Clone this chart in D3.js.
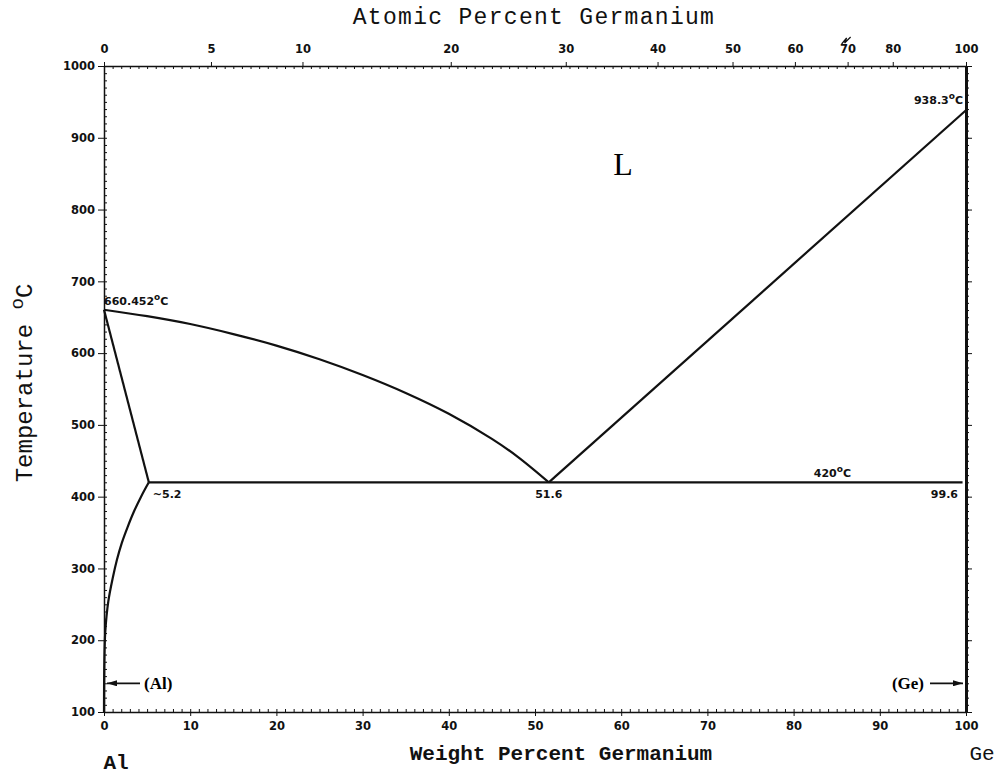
<!DOCTYPE html>
<html>
<head>
<meta charset="utf-8">
<script src="https://cdn.jsdelivr.net/npm/d3@7"></script>
<style>
  body { margin: 0; background: #fff; }
  .axis path, .axis line { stroke: #111; }
  .axis text { font-family: "DejaVu Sans", sans-serif; font-weight: bold; font-size: 11.5px; fill: #111; }
  .phase { fill: none; stroke: #111; stroke-width: 2.2; }
  .lbl { font-family: "DejaVu Sans", sans-serif; font-weight: bold; font-size: 11px; fill: #111; }
  .title { font-family: "Liberation Mono", monospace; fill: #111; }
</style>
</head>
<body>
<svg id="chart" width="1000" height="775"></svg>
<script>
// Al-Ge phase diagram
const wtTicks = [0, 10, 20, 30, 40, 50, 60, 70, 80, 90, 100];
const atTicks = [0, 5, 10, 20, 30, 40, 50, 60, 70, 80, 100];
const tempTicks = [100, 200, 300, 400, 500, 600, 700, 800, 900, 1000];

// liquidus, Al side (wt% Ge, deg C)
const liqAlWt = [0, 5, 10, 15, 20, 25, 30, 35, 40, 45, 48, 51.6];
const liqAlT  = [660.452, 651.5, 640.5, 626.5, 610.5, 591.5, 569.5, 544.5, 515.5, 480.5, 455.5, 420];
// liquidus, Ge side
const liqGeWt = [51.6, 100];
const liqGeT  = [420, 938.3];
// solidus of (Al)
const solAlWt = [0, 5.2];
const solAlT  = [660.452, 420];
// solvus of (Al)
const solvWt = [5.2, 4.3, 3.5, 2.75, 2.05, 1.5, 1.04, 0.5, 0.15, 0.04, 0];
const solvT  = [420, 400, 380, 358, 335, 312, 288, 254, 212, 170, 100];
// eutectic line
const eutWt = [5.2, 99.6];
const eutT  = [420, 420];

const AL = 26.98, GE = 72.63;
const atToWt = a => 100 * a * GE / (a * GE + (100 - a) * AL);

const svg = d3.select("#chart");

const x = d3.scaleLinear().domain([0, 100]).range([104, 966]);
const y = d3.scaleLinear().domain([100, 1000]).range([712, 66]);

// bottom axis
svg.append("g").attr("class", "axis")
    .attr("transform", "translate(0," + y(100) + ")")
    .call(d3.axisBottom(x).tickValues(d3.range(0, 101, 1)).tickSize(-3).tickFormat(""));
svg.append("g").attr("class", "axis")
    .attr("transform", "translate(0," + y(100) + ")")
    .call(d3.axisBottom(x).tickValues(wtTicks).tickSizeInner(4).tickSizeOuter(0).tickPadding(6))
    .call(g => g.select(".domain").attr("stroke-width", 1.5));

// top axis (atomic percent)
svg.append("g").attr("class", "axis")
    .attr("transform", "translate(0," + y(1000) + ")")
    .call(d3.axisTop(x).tickValues(d3.range(0, 101, 1)).tickSize(-3).tickFormat(""));
svg.append("g").attr("class", "axis")
    .attr("transform", "translate(0," + y(1000) + ")")
    .call(d3.axisTop(x).tickValues(atTicks.map(atToWt)).tickFormat((d, i) => atTicks[i])
        .tickSizeInner(4).tickSizeOuter(0).tickPadding(9))
    .call(g => g.select(".domain").attr("stroke-width", 1.5));

// left axis
svg.append("g").attr("class", "axis")
    .attr("transform", "translate(" + x(0) + ",0)")
    .call(d3.axisLeft(y).tickValues(d3.range(100, 1001, 10)).tickSize(-3).tickFormat(""));
svg.append("g").attr("class", "axis")
    .attr("transform", "translate(" + x(0) + ",0)")
    .call(d3.axisLeft(y).tickValues(tempTicks).tickFormat(d3.format("d"))
        .tickSizeInner(6).tickSizeOuter(0).tickPadding(3))
    .call(g => g.select(".domain").attr("stroke-width", 1.5));

// right axis
svg.append("g").attr("class", "axis")
    .attr("transform", "translate(" + x(100) + ",0)")
    .call(d3.axisRight(y).tickValues(d3.range(100, 1001, 10)).tickSize(3).tickFormat(""));
svg.append("g").attr("class", "axis")
    .attr("transform", "translate(" + x(100) + ",0)")
    .call(d3.axisRight(y).tickValues(tempTicks).tickSizeInner(6).tickSizeOuter(0).tickFormat(""))
    .call(g => g.select(".domain").attr("stroke-width", 3));

// phase boundaries
function drawLine(ws, ts, curve) {
    const pts = ws.map((w, i) => [w, ts[i]]);
    svg.append("path")
        .attr("class", "phase")
        .attr("d", d3.line().x(d => x(d[0])).y(d => y(d[1])).curve(curve)(pts));
}
drawLine(liqAlWt, liqAlT, d3.curveCatmullRom);
drawLine(liqGeWt, liqGeT, d3.curveLinear);
drawLine(solAlWt, solAlT, d3.curveLinear);
drawLine(solvWt, solvT, d3.curveCatmullRom);
drawLine(eutWt, eutT, d3.curveLinear);

// labels
function degLabel(txt, px, py, anchor) {
    const t = svg.append("text").attr("class", "lbl")
        .attr("x", px).attr("y", py).attr("text-anchor", anchor);
    t.append("tspan").text(txt);
    t.append("tspan").attr("font-size", 9).attr("dy", -5).text("o");
    t.append("tspan").attr("dy", 5).text("C");
}
degLabel("660.452", x(0), y(660.452) - 5, "start");
degLabel("938.3", x(100) - 3, y(938.3) - 6, "end");
degLabel("420", x(84.5), y(420) - 5, "middle");

svg.append("text").attr("class", "lbl").attr("x", x(5.2) + 4).attr("y", y(420) + 16).text("~5.2");
svg.append("text").attr("class", "lbl").attr("x", x(51.6)).attr("y", y(420) + 16)
    .attr("text-anchor", "middle").text("51.6");
svg.append("text").attr("class", "lbl").attr("x", x(100) - 8).attr("y", y(420) + 16)
    .attr("text-anchor", "end").text("99.6");

svg.append("text").attr("x", x(60.2)).attr("y", y(848))
    .attr("font-family", "Liberation Serif, serif").attr("font-size", 32).attr("text-anchor", "middle")
    .text("L");

// (Al) and (Ge) arrows
svg.append("defs").append("marker")
    .attr("id", "arr").attr("viewBox", "0 0 10 6").attr("refX", 10).attr("refY", 3)
    .attr("markerWidth", 10).attr("markerHeight", 6).attr("markerUnits", "userSpaceOnUse")
    .attr("orient", "auto")
    .append("path").attr("d", "M0,0L10,3L0,6Z").attr("fill", "#111");

const arrowT = 140;
svg.append("line").attr("x1", x(0) + 36).attr("x2", x(0) + 3)
    .attr("y1", y(arrowT)).attr("y2", y(arrowT))
    .attr("stroke", "#111").attr("stroke-width", 1.8).attr("marker-end", "url(#arr)");
svg.append("text").attr("x", x(0) + 40).attr("y", y(arrowT) + 6)
    .attr("font-family", "Liberation Serif, serif").attr("font-weight", "bold").attr("font-size", 17)
    .text("(Al)");
svg.append("line").attr("x1", x(100) - 36).attr("x2", x(100) - 3)
    .attr("y1", y(arrowT)).attr("y2", y(arrowT))
    .attr("stroke", "#111").attr("stroke-width", 1.8).attr("marker-end", "url(#arr)");
svg.append("text").attr("x", x(100) - 42).attr("y", y(arrowT) + 6).attr("text-anchor", "end")
    .attr("font-family", "Liberation Serif, serif").attr("font-weight", "bold").attr("font-size", 17)
    .text("(Ge)");

// break mark above 70 on top axis
svg.append("path")
    .attr("d", "M" + (x(atToWt(70)) - 6) + "," + (y(1000) - 22) + "l5,-6l-2,5l6,-6")
    .attr("fill", "none").attr("stroke", "#111").attr("stroke-width", 1.2);

// titles
svg.append("text").attr("class", "title").attr("x", 534).attr("y", 24)
    .attr("text-anchor", "middle").attr("font-size", 23).attr("letter-spacing", 1.3)
    .text("Atomic Percent Germanium");
svg.append("text").attr("class", "title").attr("x", 561).attr("y", 760)
    .attr("text-anchor", "middle").attr("font-size", 21).attr("font-weight", "bold")
    .text("Weight Percent Germanium");
svg.append("text").attr("class", "title").attr("x", x(0) + 12).attr("y", 769)
    .attr("text-anchor", "middle").attr("font-size", 21).attr("font-weight", "bold").text("Al");
svg.append("text").attr("class", "title").attr("x", x(100) + 16).attr("y", 760)
    .attr("text-anchor", "middle").attr("font-size", 21).text("Ge");

const yt = svg.append("text").attr("class", "title")
    .attr("transform", "translate(32,383) rotate(-90)")
    .attr("text-anchor", "middle").attr("font-size", 24);
yt.append("tspan").text("Temperature ");
yt.append("tspan").attr("font-size", 19).attr("dy", -9).text("o");
yt.append("tspan").attr("dy", 9).text("C");
</script>
</body>
</html>
